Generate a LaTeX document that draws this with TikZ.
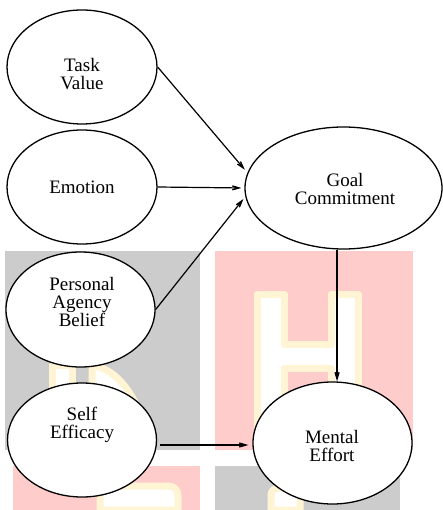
\documentclass[tikz,border=0pt]{standalone}
\usepackage{fontspec}
\setmainfont{Liberation Serif}
\usetikzlibrary{shapes.geometric,arrows.meta,calc}
\definecolor{wmgray}{HTML}{CCCCCC}
\definecolor{wmpink}{HTML}{FFCCCC}
\definecolor{wmyel}{HTML}{FFF4D4}
\tikzset{
  ell/.style={ellipse,draw=black,line width=1.3pt,fill=white,inner sep=0pt},
  txt/.style={align=center,font=\fontsize{19pt}{18pt}\selectfont,inner sep=0pt},
  arr/.style={line width=1.2pt,-{Stealth[length=17pt,width=10pt,inset=11pt]}},
  wmletter/.style={draw=wmyel,line width=7pt,fill=white,line join=round},
}
\begin{document}
\begin{tikzpicture}[x=1pt,y=-1pt]
\useasboundingbox (0,0) rectangle (443,510);
% watermark background
\fill[wmgray] (5,251) rectangle (200,450);
\fill[wmpink] (215,251) rectangle (413,450);
\fill[wmpink] (13,466) rectangle (200,510);
\fill[wmgray] (215,466) rectangle (400,510);
\path[wmletter] (257,294) -- (284,294) -- (284,344) -- (331,344) -- (331,294) -- (358,294)
  -- (358,447) -- (331,447) -- (331,368) -- (284,368) -- (284,447) -- (257,447) -- cycle;
\path[wmletter] (52,365) -- (72,365) -- (72,447) -- (52,447) -- cycle;
\path[wmletter] (92,365) .. controls (120,370) and (140,400) .. (150,447) -- (128,447) .. controls (120,410) and (105,390) .. (92,385) -- cycle;
\path[wmletter] (100,510) -- (100,495) .. controls (100,488) and (105,486) .. (112,486) -- (168,486) .. controls (175,486) and (178,490) .. (178,497) -- (178,510) -- cycle;
\path[wmletter] (271,510) -- (271,495) .. controls (271,490) and (275,488) .. (280,488) -- (300,488) -- (300,510) -- cycle;
% nodes
\node[ell,minimum width=150pt,minimum height=114pt] (tv) at (82,67) {};
\node[txt] (tvt) at (82,74) {Task\\Value};
\node[ell,minimum width=150pt,minimum height=114pt] (em) at (82,187) {};
\node[txt] (emt) at (82,187) {Emotion};
\node[ell,minimum width=197pt,minimum height=122pt] (gc) at (343.5,188) {};
\node[txt] (gct) at (345,189) {Goal\\Commitment};
\node[ell,minimum width=149pt,minimum height=115pt] (pab) at (80.5,309.5) {};
\node[txt] (pabt) at (82,302) {Personal\\Agency\\Belief};
\node[ell,minimum width=149pt,minimum height=114pt] (se) at (82,440) {};
\node[txt] (set) at (82,425) {Self\\Efficacy};
\node[ell,minimum width=159pt,minimum height=122pt] (me) at (332.5,443) {};
\node[txt] (met) at (332,446) {Mental\\Effort};
% connectors
\draw[arr,shorten >=4pt] (tv.east) -- (gc.171);
\draw[arr,shorten >=3pt] (em.east) -- (gc.west);
\draw[arr,shorten >=3pt] (pab.east) -- (gc.185);
\draw[arr] (gc.264) -- (gc.264 |- me.north);
\coordinate (sestart) at ([xshift=3pt,yshift=-5pt]se.east);
\coordinate (seend) at (me.west |- sestart);
\draw[arr] (sestart) -- ([xshift=-4pt]seend);
\end{tikzpicture}
\end{document}
